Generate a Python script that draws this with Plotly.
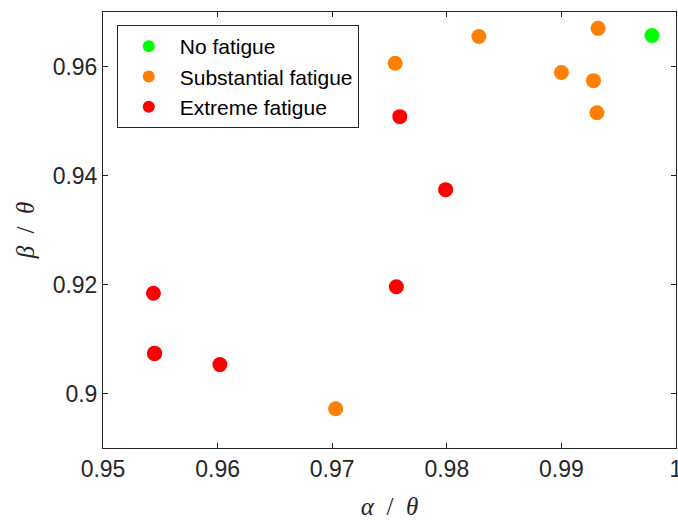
import plotly.graph_objects as go

no_x = [0.9979]
no_y = [0.9657]
sub_x = [0.9828, 0.9932, 0.9755, 0.9900, 0.9928, 0.9931, 0.9703]
sub_y = [0.9655, 0.9670, 0.9606, 0.9589, 0.9574, 0.9515, 0.8972]
ext_x = [0.9759, 0.9799, 0.9756, 0.9544, 0.9545, 0.9545, 0.9602]
ext_y = [0.9508, 0.9374, 0.9196, 0.9184, 0.9074, 0.9073, 0.9053]

x_ticks = [0.95, 0.96, 0.97, 0.98, 0.99, 1.0]
x_labels = ["0.95", "0.96", "0.97", "0.98", "0.99", "1"]
y_ticks = [0.90, 0.92, 0.94, 0.96]
y_labels = ["0.9", "0.92", "0.94", "0.96"]

fig = go.Figure()
for name, xs, ys, col in [("No fatigue", no_x, no_y, "#00ff00"),
                          ("Substantial fatigue", sub_x, sub_y, "#ff8000"),
                          ("Extreme fatigue", ext_x, ext_y, "#ff0000")]:
    fig.add_trace(go.Scatter(x=xs, y=ys, mode="markers", name=name,
                             marker=dict(size=15, color=col, line=dict(width=0))))

axcol = "#262626"
serif = "Liberation Serif, Times New Roman, serif"
fig.update_layout(
    width=678, height=520,
    margin=dict(l=103, r=2, t=12, b=72),
    paper_bgcolor="white", plot_bgcolor="white",
    font=dict(family="Liberation Sans, Arial, sans-serif", size=23, color=axcol),
    showlegend=True,
    legend=dict(x=0.024, y=0.970, xanchor="left", yanchor="top",
                bordercolor=axcol, borderwidth=1, bgcolor="white",
                font=dict(size=21, color="#000000"), itemsizing="constant",
                itemwidth=52, tracegroupgap=0),
    xaxis=dict(range=[0.95, 1.0], tickvals=x_ticks, ticktext=x_labels,
               showgrid=False, zeroline=False, showline=True, linecolor=axcol,
               linewidth=1, mirror="ticks", ticks="inside", ticklen=5,
               tickcolor=axcol, automargin=False, ticklabeloverflow="allow",
               title=dict(text="<i>α</i>\u2002/\u2002<i>θ</i>",
                          font=dict(family=serif, size=25),
                          standoff=20)),
    yaxis=dict(range=[0.89, 0.97], tickvals=y_ticks, ticktext=y_labels,
               showgrid=False, zeroline=False, showline=True, linecolor=axcol,
               linewidth=1, mirror="ticks", ticks="inside", ticklen=5,
               tickcolor=axcol, automargin=False, ticklabeloverflow="allow",
               title=dict(text="<i>β</i>\u2002/\u2002<i>θ</i>",
                          font=dict(family=serif, size=25),
                          standoff=10)),
)
fig.write_html("out.html")
